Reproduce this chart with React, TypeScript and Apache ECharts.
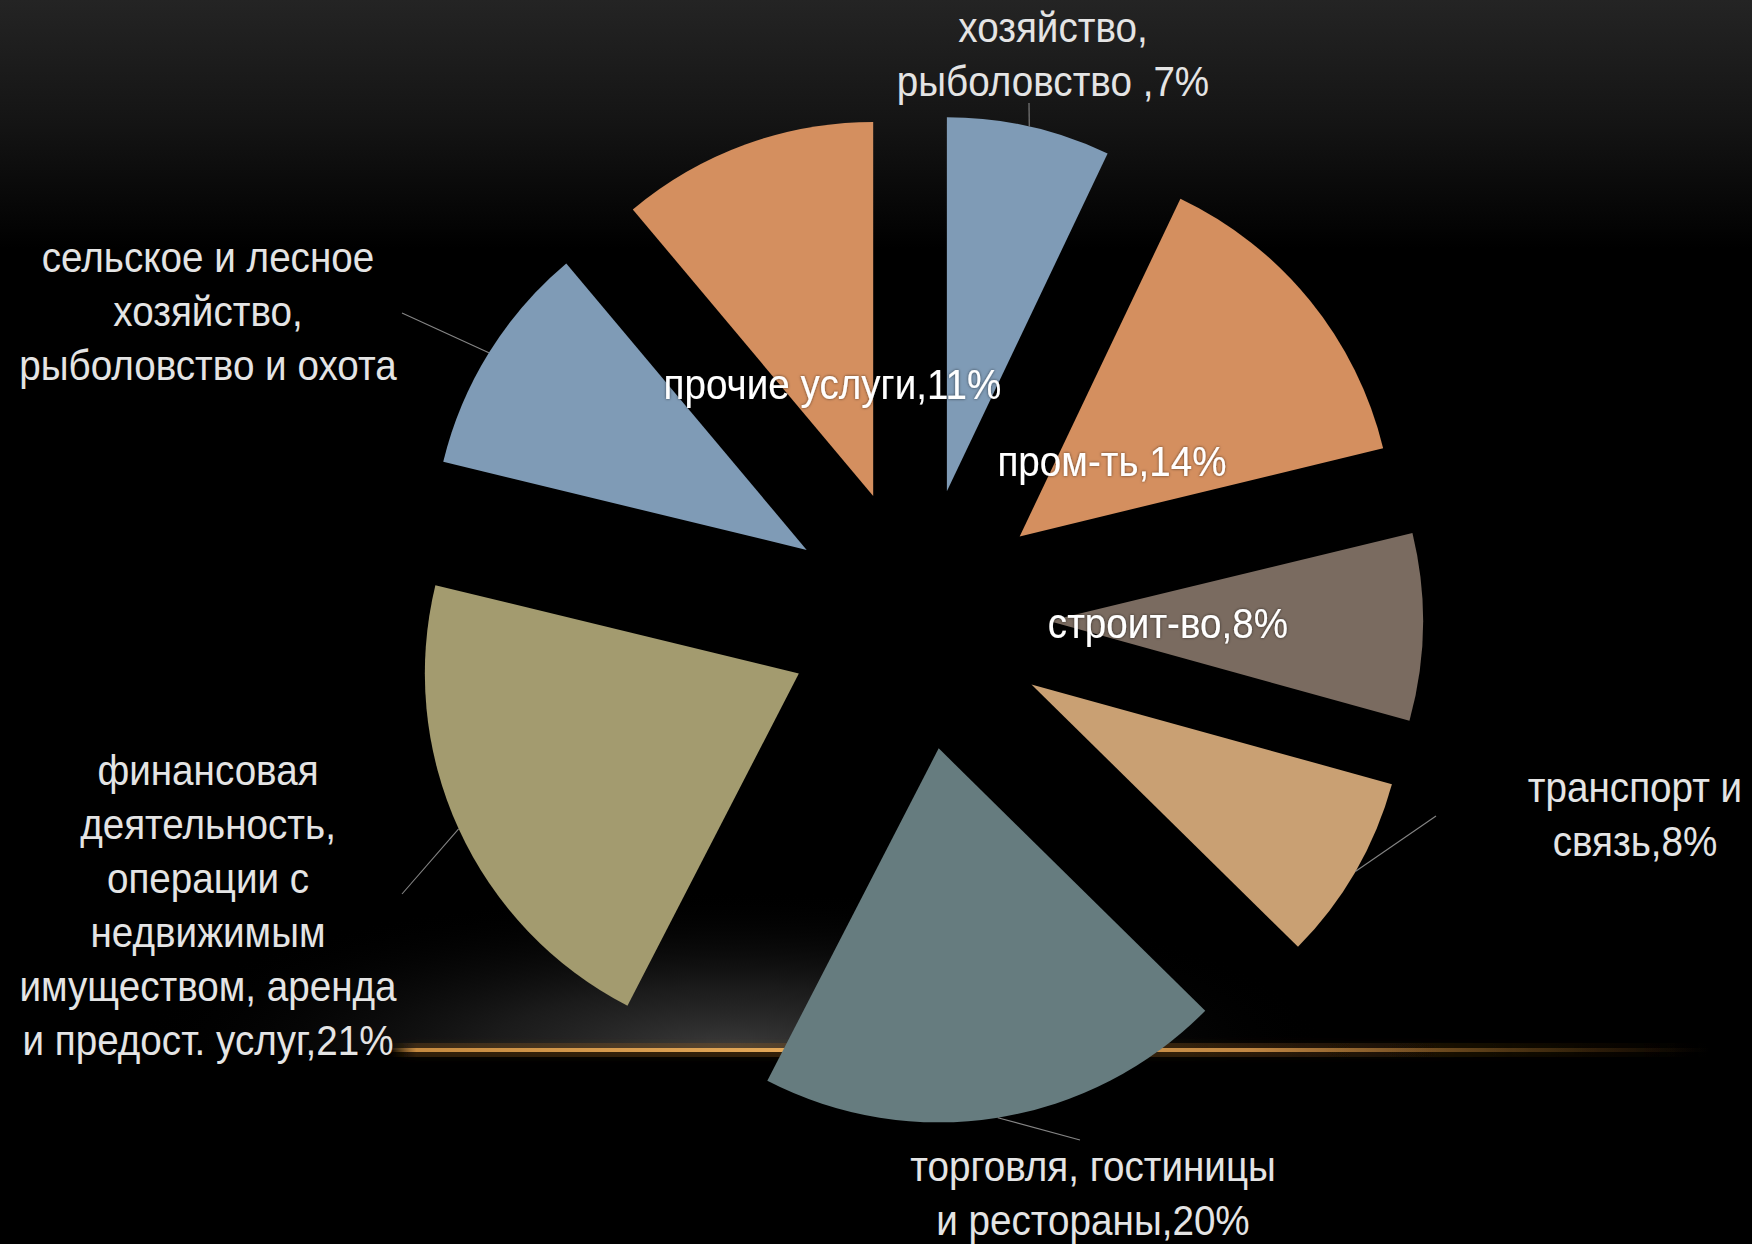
import React, { useEffect, useRef } from "react";
import * as echarts from "echarts";

// ---------- data ----------
const categories = [
  "сельское и лесное хозяйство, рыболовство",
  "пром-ть",
  "строит-во",
  "транспорт и связь",
  "торговля, гостиницы и рестораны",
  "финансовая деятельность, операции с недвижимым имуществом, аренда и предост. услуг",
  "сельское и лесное хозяйство, рыболовство и охота",
  "прочие услуги",
];
const values = [7, 14, 8, 8, 20, 21, 10, 11];
const labelTexts = [
  "хозяйство,\nрыболовство ,7%",
  "пром-ть,14%",
  "строит-во,8%",
  "транспорт и\nсвязь,8%",
  "торговля, гостиницы\nи рестораны,20%",
  "финансовая\nдеятельность,\nоперации с\nнедвижимым\nимуществом, аренда\nи предост. услуг,21%",
  "сельское и лесное\nхозяйство,\nрыболовство и охота",
  "прочие услуги,11%",
];
const labelInside = [false, true, true, false, false, false, false, true];

// ---------- styles / layout ----------
const colors = ["#7F9BB6", "#D48F5F", "#7A6B60", "#C9A073", "#667C7F", "#A39B6F", "#7F9BB6", "#D48F5F"];
const W = 1752;
const H = 1244;
const CX = 918;
const CY = 619;
const R = 374;
const EXPLODE = 131;
const INSIDE_R = 250;
const FONT = '42px "Liberation Sans", Arial, sans-serif';
const TEXT_SCALE_X = 0.92;
const LINE_H = 54;
// outside label placement: text block centre and leader-line end
const outsideLayout: Record<number, { tx: number; ty: number; ex: number; ey: number }> = {
  0: { tx: 1053, ty: 54, ex: 1029, ey: 103 },
  3: { tx: 1635, ty: 814, ex: 1436, ey: 816 },
  4: { tx: 1093, ty: 1193, ex: 1080, ey: 1140 },
  5: { tx: 208, ty: 905, ex: 402, ey: 894 },
  6: { tx: 208, ty: 311, ex: 402, ey: 313 },
};

export default function App() {
  const ref = useRef<HTMLDivElement>(null);

  useEffect(() => {
    if (!ref.current) return;
    const chart = echarts.init(ref.current, null, { renderer: "svg", width: W, height: H });

    const total = values.reduce((a, b) => a + b, 0);
    const mids: number[] = [];
    let acc = 0;
    values.forEach((v) => {
      mids.push(((acc + v / 2) / total) * Math.PI * 2);
      acc += v;
    });
    const dir = (a: number) => [Math.sin(a), -Math.cos(a)];

    const graphics: any[] = [];
    // soft grey glow above the orange line
    graphics.push({
      type: "ellipse",
      z: 0,
      silent: true,
      shape: { cx: 730, cy: 1050, rx: 600, ry: 160 },
      style: {
        fill: new echarts.graphic.RadialGradient(0.5, 0.5, 0.5, [
          { offset: 0, color: "rgba(60,60,60,1)" },
          { offset: 0.4, color: "rgba(38,38,38,0.7)" },
          { offset: 1, color: "rgba(0,0,0,0)" },
        ]),
      },
    });
    graphics.push({
      type: "rect",
      z: 0,
      silent: true,
      shape: { x: 0, y: 1050, width: W, height: H - 1050 },
      style: { fill: "#000" },
    });
    // orange line: outer glow
    graphics.push({
      type: "rect",
      z: 1,
      silent: true,
      shape: { x: 390, y: 1043, width: 1320, height: 14 },
      style: {
        fill: new echarts.graphic.LinearGradient(0, 0, 1, 0, [
          { offset: 0, color: "rgba(140,88,28,0)" },
          { offset: 0.02, color: "rgba(140,88,28,0.3)" },
          { offset: 0.6, color: "rgba(140,88,28,0.3)" },
          { offset: 0.85, color: "rgba(140,88,28,0.1)" },
          { offset: 1, color: "rgba(140,88,28,0)" },
        ]),
        shadowBlur: 8,
        shadowColor: "rgba(140,88,28,0.35)",
      },
    });
    // orange line: core
    graphics.push({
      type: "rect",
      z: 1,
      silent: true,
      shape: { x: 390, y: 1048, width: 1320, height: 4 },
      style: {
        fill: new echarts.graphic.LinearGradient(0, 0, 1, 0, [
          { offset: 0, color: "rgba(214,150,70,0)" },
          { offset: 0.02, color: "rgba(214,150,70,0.9)" },
          { offset: 0.3, color: "rgba(228,168,88,1)" },
          { offset: 0.65, color: "rgba(210,148,74,0.9)" },
          { offset: 0.85, color: "rgba(170,115,50,0.4)" },
          { offset: 1, color: "rgba(150,95,30,0)" },
        ]),
      },
    });

    // labels
    labelTexts.forEach((txt, i) => {
      const d = dir(mids[i]);
      if (labelInside[i]) {
        graphics.push({
          type: "text",
          z: 10,
          silent: true,
          x: CX + d[0] * INSIDE_R,
          y: CY + d[1] * INSIDE_R,
          scaleX: TEXT_SCALE_X,
          style: {
            text: txt,
            font: FONT,
            fill: "#ffffff",
            align: "center",
            verticalAlign: "middle",
            lineHeight: LINE_H,
            textShadowColor: "rgba(0,0,0,0.6)",
            textShadowBlur: 3,
          },
        });
      } else {
        const L = outsideLayout[i];
        const sx = CX + d[0] * (EXPLODE + R);
        const sy = CY + d[1] * (EXPLODE + R);
        graphics.push({
          type: "line",
          z: 10,
          silent: true,
          shape: { x1: sx, y1: sy, x2: L.ex, y2: L.ey },
          style: { stroke: "#858585", lineWidth: 1.1 },
        });
        graphics.push({
          type: "text",
          z: 10,
          silent: true,
          x: L.tx,
          y: L.ty,
          scaleX: TEXT_SCALE_X,
          style: {
            text: txt,
            font: FONT,
            fill: "#e4e4e4",
            align: "center",
            verticalAlign: "middle",
            lineHeight: LINE_H,
          },
        });
      }
    });

    chart.setOption({
      animation: false,
      backgroundColor: new echarts.graphic.LinearGradient(0, 0, 0, 1, [
        { offset: 0, color: "#242424" },
        { offset: 0.1, color: "#141414" },
        { offset: 0.2, color: "#000000" },
        { offset: 1, color: "#000000" },
      ]),
      series: [
        {
          type: "pie",
          z: 2,
          center: [CX, CY],
          radius: R,
          startAngle: 90,
          clockwise: true,
          selectedMode: "multiple",
          selectedOffset: EXPLODE,
          avoidLabelOverlap: false,
          label: { show: false },
          labelLine: { show: false },
          emphasis: { disabled: true },
          select: { itemStyle: { borderWidth: 0 } },
          itemStyle: { borderWidth: 0 },
          data: categories.map((name, i) => ({
            name,
            value: values[i],
            selected: true,
            itemStyle: { color: colors[i] },
          })),
        },
      ],
      graphic: { elements: graphics },
    });

    return () => chart.dispose();
  }, []);

  return (
    <div
      ref={ref}
      style={{ position: "absolute", left: 0, top: 0, width: W, height: H, background: "#000" }}
    />
  );
}
